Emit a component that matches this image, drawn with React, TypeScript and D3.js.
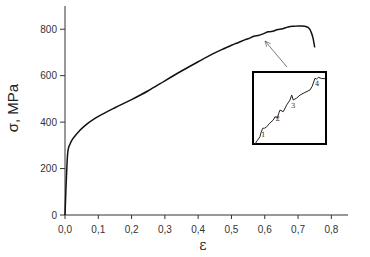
import React from "react";
import * as d3 from "d3";

// main stress-strain curve
const strain = [0, 0.003, 0.006, 0.008, 0.01, 0.015, 0.02, 0.03, 0.045, 0.06, 0.09, 0.12, 0.15, 0.2, 0.25, 0.3, 0.35, 0.4, 0.45, 0.48, 0.5, 0.51, 0.52, 0.54, 0.55, 0.57, 0.58, 0.6, 0.61, 0.62, 0.64, 0.65, 0.67, 0.69, 0.7, 0.71, 0.72, 0.73, 0.735, 0.74, 0.745, 0.75];
const stress = [0, 120, 220, 265, 285, 305, 320, 340, 365, 385, 416, 440, 462, 497, 535, 578, 620, 660, 698, 718, 731, 737, 742, 754, 759, 771, 773, 783, 789, 790, 799, 801, 810, 813, 814, 814, 813, 808, 800, 785, 762, 722];

// inset (zoomed serrations), normalized 0..100
const insetX = [2.7, 6, 9.6, 11, 13.3, 16, 18.8, 23, 27.8, 30.1, 33.3, 35, 37, 41.5, 46, 50.7, 53, 55.2, 60, 64.4, 70, 78.1, 81, 84.9, 87, 89.5, 94, 98.6];
const insetY = [0, 5, 10.1, 16, 21.8, 22, 24, 29, 33.3, 37.9, 35.7, 42, 47.2, 44.9, 54, 61.1, 68, 61.1, 64, 68, 71, 75, 80, 91.3, 90, 92.6, 91, 90.7];
const insetLabels = [
  { t: "1", x: 14, y: 10 },
  { t: "2", x: 34, y: 32 },
  { t: "3", x: 55, y: 50 },
  { t: "4", x: 88, y: 80 },
];

const xTicks = [0, 0.1, 0.2, 0.3, 0.4, 0.5, 0.6, 0.7, 0.8];
const yTicks = [0, 200, 400, 600, 800];

export default function App() {
  const W = 370;
  const H = 257;
  const x = d3.scaleLinear().domain([0, 0.85]).range([65, 348]);
  const y = d3.scaleLinear().domain([0, 900]).range([215, 6]);

  const line = d3
    .line<number>()
    .x((_, i) => x(strain[i]))
    .y((d) => y(d))
    .curve(d3.curveMonotoneX);

  const ix = d3.scaleLinear().domain([0, 100]).range([253, 326]);
  const iy = d3.scaleLinear().domain([0, 100]).range([144, 72]);
  const iline = d3
    .line<number>()
    .x((_, i) => ix(insetX[i]))
    .y((d) => iy(d));

  const fmt = (v: number) => v.toFixed(1).replace(".", ",");
  const axisColor = "#333";
  const font = "Liberation Sans, Arial, sans-serif";

  return (
    <svg
      width={W}
      height={H}
      style={{ position: "absolute", left: 0, top: 0, background: "#fff" }}
      fontFamily={font}
    >
      <rect width={W} height={H} fill="#fff" />
      {/* axes */}
      <line x1={x(0)} x2={x(0)} y1={y(0)} y2={y(900)} stroke={axisColor} strokeWidth={1} />
      <line x1={x(0)} x2={x(0.85)} y1={y(0)} y2={y(0)} stroke={axisColor} strokeWidth={1} />
      {yTicks.map((t) => (
        <g key={"y" + t}>
          <line x1={x(0) - 5} x2={x(0)} y1={y(t)} y2={y(t)} stroke={axisColor} />
          <text x={x(0) - 8} y={y(t) + 3.5} textAnchor="end" fontSize={10} fill="#333">
            {t}
          </text>
        </g>
      ))}
      {xTicks.map((t) => (
        <g key={"x" + t}>
          <line x1={x(t)} x2={x(t)} y1={y(0)} y2={y(0) + 4} stroke={axisColor} />
          <text x={x(t)} y={y(0) + 18} textAnchor="middle" fontSize={10} fill="#333">
            {fmt(t)}
          </text>
        </g>
      ))}
      <text
        transform={`translate(18,${108}) rotate(-90)`}
        textAnchor="middle"
        fontSize={15}
        fill="#222"
      >
        σ, MPa
      </text>
      <text x={203} y={250} textAnchor="middle" fontSize={14} fontFamily="DejaVu Serif, serif" fill="#222">
        ε
      </text>

      {/* main curve */}
      <path d={line(stress) || ""} fill="none" stroke="#111" strokeWidth={1.5} />

      {/* arrow */}
      <defs>
        <marker id="ah" viewBox="0 0 10 10" refX="9" refY="5" markerWidth="8" markerHeight="8" orient="auto">
          <path d="M0,1 L9,5 L0,9" fill="none" stroke="#555" strokeWidth={1} />
        </marker>
      </defs>
      <line x1={287} y1={67} x2={265} y2={41} stroke="#555" strokeWidth={0.8} markerEnd="url(#ah)" />

      {/* inset */}
      <rect x={253} y={72} width={73} height={72} fill="#fff" stroke="#000" strokeWidth={2} />
      <path d={iline(insetY) || ""} fill="none" stroke="#222" strokeWidth={1} />
      {insetLabels.map((l) => (
        <text key={l.t} x={ix(l.x)} y={iy(l.y)} fontSize={7} fill="#333" textAnchor="middle" fontFamily="DejaVu Serif, serif">
          {l.t}
        </text>
      ))}
    </svg>
  );
}
